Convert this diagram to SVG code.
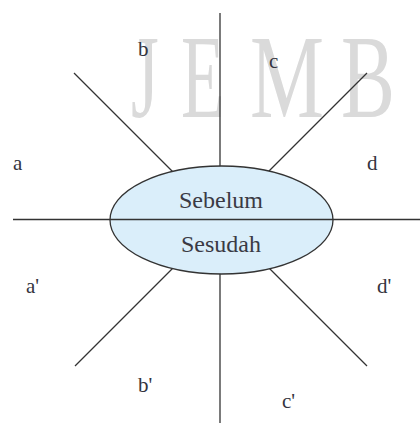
<svg xmlns="http://www.w3.org/2000/svg" width="420" height="423" viewBox="0 0 420 423">
<style>
.wm{font-family:"Liberation Serif",serif;font-size:119px;fill:#dadada}
.ln{stroke:#333;stroke-width:1.3;fill:none}
.lbl{font-family:"Liberation Serif",serif;font-size:21px;fill:#34343e}
.ctr{font-family:"Liberation Serif",serif;font-size:24px;fill:#3a3a44;text-anchor:middle}
</style>
<rect width="420" height="423" fill="#fff"/>
<g id="watermark">
<text class="wm" transform="translate(131,117) scale(0.6,1)">J</text>
<text class="wm" transform="translate(181,117) scale(0.6,1)">E</text>
<text class="wm" transform="translate(250,117) scale(0.7,1)">M</text>
<text class="wm" transform="translate(341,117) scale(0.68,1)">B</text>
</g>
<g id="connectors">
<line class="ln" x1="220" y1="13" x2="220" y2="423"/>
<line class="ln" x1="74" y1="73" x2="200" y2="199"/>
<line class="ln" x1="367" y1="73" x2="243" y2="197"/>
<line class="ln" x1="75" y1="366" x2="200" y2="241"/>
<line class="ln" x1="367" y1="366" x2="243" y2="242"/>
</g>
<g id="center">
<ellipse cx="221.5" cy="220" rx="111.5" ry="54" fill="#daeefa" stroke="#333" stroke-width="1.3"/>
<line class="ln" x1="13" y1="219.5" x2="420" y2="219.5"/>
<text class="ctr" x="221" y="208">Sebelum</text>
<text class="ctr" x="221" y="252">Sesudah</text>
</g>
<g id="label-a"><text class="lbl" x="13" y="170">a</text></g>
<g id="label-b"><text class="lbl" x="138" y="56">b</text></g>
<g id="label-c"><text class="lbl" x="269" y="68">c</text></g>
<g id="label-d"><text class="lbl" x="367" y="170">d</text></g>
<g id="label-a2"><text class="lbl" x="26" y="293">a'</text></g>
<g id="label-b2"><text class="lbl" x="138" y="392">b'</text></g>
<g id="label-c2"><text class="lbl" x="282" y="408">c'</text></g>
<g id="label-d2"><text class="lbl" x="377" y="293">d'</text></g>
</svg>
